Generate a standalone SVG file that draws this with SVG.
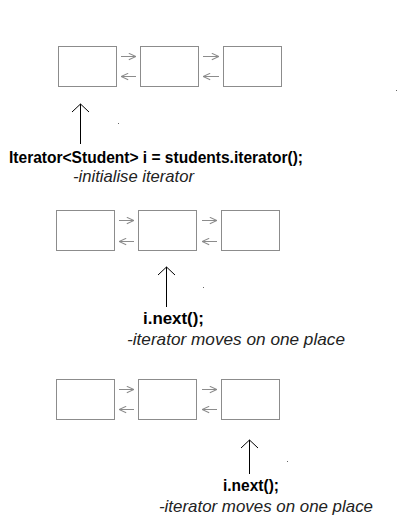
<svg xmlns="http://www.w3.org/2000/svg" width="400" height="525" viewBox="0 0 400 525">
  <defs>
    <marker id="gh" viewBox="0 0 10 10" refX="10" refY="5" markerWidth="8" markerHeight="8" markerUnits="userSpaceOnUse" orient="auto">
      <path d="M1,1 L10,5 L1,9" fill="none" stroke="#8a8a8a" stroke-width="1.3"/>
    </marker>
  </defs>
  <style>
    .box { fill: #ffffff; stroke: #8c8c8c; stroke-width: 1; }
    .link { stroke: #8c8c8c; stroke-width: 1; fill: none; marker-end: url(#gh); }
    .ptr { stroke: #000000; stroke-width: 1; fill: none; }
    .code { font-family: "Liberation Sans", Arial, sans-serif; font-weight: bold; font-size: 16px; fill: #000000; }
    .note { font-family: "Liberation Sans", Arial, sans-serif; font-style: italic; font-size: 16.5px; fill: #222222; }
    .dot { fill: #666666; }
  </style>
  <rect width="400" height="525" fill="#ffffff"/>

  <g id="row1">
    <g id="r1n1"><rect class="box" x="58.5" y="46.5" width="58" height="40"/></g>
    <g id="r1n2"><rect class="box" x="140.5" y="46.5" width="58" height="40"/></g>
    <g id="r1n3"><rect class="box" x="223.5" y="46.5" width="58" height="40"/></g>
  </g>
  <g id="row2">
    <g id="r2n1"><rect class="box" x="56.5" y="210.5" width="58" height="40"/></g>
    <g id="r2n2"><rect class="box" x="138.5" y="210.5" width="58" height="40"/></g>
    <g id="r2n3"><rect class="box" x="221.5" y="210.5" width="58" height="40"/></g>
  </g>
  <g id="row3">
    <g id="r3n1"><rect class="box" x="56.5" y="379.5" width="58" height="40"/></g>
    <g id="r3n2"><rect class="box" x="138.5" y="379.5" width="58" height="40"/></g>
    <g id="r3n3"><rect class="box" x="221.5" y="379.5" width="58" height="40"/></g>
  </g>

  <g id="connectors">
    <line class="link" x1="121" y1="56.5" x2="136" y2="56.5"/>
    <line class="link" x1="136" y1="76.5" x2="121" y2="76.5"/>
    <line class="link" x1="203" y1="56.5" x2="219" y2="56.5"/>
    <line class="link" x1="219" y1="76.5" x2="203" y2="76.5"/>

    <line class="link" x1="119" y1="220.5" x2="134" y2="220.5"/>
    <line class="link" x1="134" y1="241.5" x2="119" y2="241.5"/>
    <line class="link" x1="202" y1="220.5" x2="217" y2="220.5"/>
    <line class="link" x1="217" y1="241.5" x2="202" y2="241.5"/>

    <line class="link" x1="119" y1="389.5" x2="134" y2="389.5"/>
    <line class="link" x1="134" y1="409.5" x2="119" y2="409.5"/>
    <line class="link" x1="202" y1="389.5" x2="217" y2="389.5"/>
    <line class="link" x1="217" y1="409.5" x2="202" y2="409.5"/>

    <path class="ptr" d="M80.5,144 L80.5,104 M72,112 L80.5,104 L89,112"/>
    <path class="ptr" d="M166.5,307 L166.5,267 M158,275 L166.5,267 L175,275"/>
    <path class="ptr" d="M249.5,474 L249.5,440 M241,448 L249.5,440 L258,448"/>
  </g>

  <g id="label1">
    <text class="code" x="9" y="163" textLength="294" lengthAdjust="spacingAndGlyphs">Iterator&lt;Student&gt; i = students.iterator();</text>
    <text class="note" x="73" y="182" textLength="121" lengthAdjust="spacingAndGlyphs">-initialise iterator</text>
  </g>
  <g id="label2">
    <text class="code" x="143" y="324" textLength="61" lengthAdjust="spacingAndGlyphs">i.next();</text>
    <text class="note" x="127" y="345" textLength="218" lengthAdjust="spacingAndGlyphs">-iterator moves on one place</text>
  </g>
  <g id="label3">
    <text class="code" x="223" y="491" textLength="56" lengthAdjust="spacingAndGlyphs">i.next();</text>
    <text class="note" x="159" y="512" textLength="214" lengthAdjust="spacingAndGlyphs">-iterator moves on one place</text>
  </g>

  <g id="specks">
    <rect class="dot" x="118" y="123" width="1" height="1"/>
    <rect class="dot" x="203" y="287" width="1" height="1"/>
    <rect class="dot" x="287" y="461" width="1" height="1"/>
    <rect class="dot" x="396" y="90" width="1" height="1"/>
  </g>
</svg>
